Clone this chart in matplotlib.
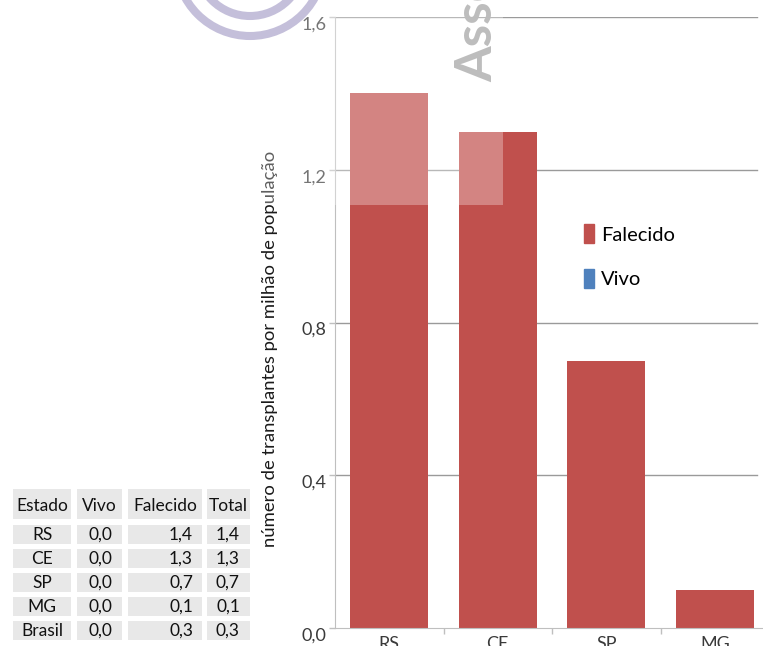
import matplotlib
matplotlib.use("Agg")
import matplotlib.pyplot as plt
from matplotlib.patches import Patch, Rectangle, Circle
from matplotlib.transforms import ScaledTranslation

plt.rcParams["font.family"] = ["Lato", "DejaVu Sans"]

# dados
estados = ["RS", "CE", "SP", "MG", "Brasil"]
vivo = [0.0, 0.0, 0.0, 0.0, 0.0]
falecido = [1.4, 1.3, 0.7, 0.1, 0.3]
total = [1.4, 1.3, 0.7, 0.1, 0.3]
y_ticks = [0.0, 0.4, 0.8, 1.2, 1.6]

cor_falecido = "#C0504D"
cor_vivo = "#4F81BD"


def fmt(v):
    return "{:.1f}".format(v).replace(".", ",")


W, H = 763, 646
fig = plt.figure(figsize=(W / 100, H / 100), dpi=100)

# grafico de barras (sem Brasil)
ax = fig.add_axes([335 / W, (H - 628) / H, 434 / W, 611 / H])
n = 4
xs = list(range(n))
ax.bar(xs, vivo[:n], width=0.72, color=cor_vivo, linewidth=0)
ax.bar(xs, falecido[:n], bottom=vivo[:n], width=0.72, color=cor_falecido, linewidth=0)
ax.set_xlim(-0.5, n - 0.5)
ax.set_ylim(0, 1.6)

for t in y_ticks[1:]:
    ax.axhline(t, xmax=0.973, color="#9A9A9A", linewidth=1, zorder=0)

ax.set_yticks(y_ticks)
ax.set_yticklabels([fmt(t) for t in y_ticks])
ax.tick_params(axis="y", length=4, width=1, color="#BFBFBF", pad=2, labelsize=13, labelcolor="#3A3A3A")
off = ScaledTranslation(0, -6 / 100, fig.dpi_scale_trans)
for lbl in ax.get_yticklabels():
    lbl.set_transform(lbl.get_transform() + off)

ax.set_xticks([i + 0.5 for i in range(n - 1)])
ax.set_xticklabels([])
ax.set_xticks(xs, minor=True)
ax.set_xticklabels(estados[:n], minor=True)
ax.tick_params(axis="x", which="major", length=4, width=1, color="#BFBFBF")
ax.tick_params(axis="x", which="minor", length=0, pad=6, labelsize=13, labelcolor="#3A3A3A")

for s in ["top", "right"]:
    ax.spines[s].set_visible(False)
for s in ["left", "bottom"]:
    ax.spines[s].set_color("#BFBFBF")

ax.set_ylabel("número de transplantes por milhão de população", fontsize=13.3, color="#1A1A1A")
ax.yaxis.set_label_coords(-0.132, 0.457)

fig.legend(handles=[Patch(color=cor_falecido, label="Falecido"), Patch(color=cor_vivo, label="Vivo")],
           loc="upper left", bbox_to_anchor=(566 / W, 1 - 206 / H), frameon=False,
           fontsize=14.5, handlelength=0.5, handleheight=1.1, handletextpad=0.35, labelspacing=1.25)

# camada de sobreposicao em pixels
ov = fig.add_axes([0, 0, 1, 1], zorder=5)
ov.set_xlim(0, W)
ov.set_ylim(H, 0)
ov.axis("off")
ov.patch.set_alpha(0)

# marca d'agua
ov.add_patch(Rectangle((0, 0), 503, 205, facecolor="white", alpha=0.3, linewidth=0))
for r in [74, 54]:
    ov.add_patch(Circle((250, -38), r, fill=False, edgecolor="#C4BFDA", linewidth=5.8))
ov.text(492, 82, "Associação", rotation=90, rotation_mode="anchor", ha="left", va="baseline",
        fontsize=37, fontweight="bold", color="#BDBDBD")

# tabela
cols = [(13, 71), (77, 122), (128, 202), (207, 250)]
cab = ["Estado", "Vivo", "Falecido", "Total"]
cinza = "#E8E8E8"
for (x0, x1), c in zip(cols, cab):
    ov.add_patch(Rectangle((x0, 489), x1 - x0, 30, facecolor=cinza, linewidth=0))
    ov.text((x0 + x1) / 2, 506, c, ha="center", va="center", fontsize=12.5, color="#111111")
for i, e in enumerate(estados):
    y0 = 525 + i * 24
    for x0, x1 in cols:
        ov.add_patch(Rectangle((x0, y0), x1 - x0, 19, facecolor=cinza, linewidth=0))
    yc = y0 + 10
    ov.text(42, yc, e, ha="center", va="center", fontsize=12.5, color="#111111")
    ov.text(100, yc, fmt(vivo[i]), ha="center", va="center", fontsize=12.5, color="#111111")
    ov.text(193, yc, fmt(falecido[i]), ha="right", va="center", fontsize=12.5, color="#111111")
    ov.text(228, yc, fmt(total[i]), ha="center", va="center", fontsize=12.5, color="#111111")

fig.savefig("out.png", dpi=100)
